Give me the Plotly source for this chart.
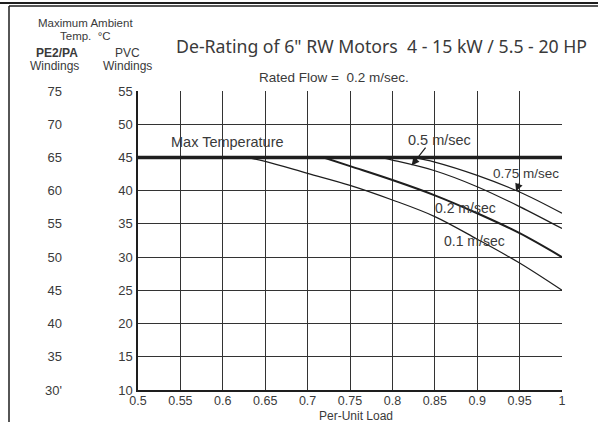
import plotly.graph_objects as go

# ---- data ----
load_01 = [0.628, 0.65, 0.7, 0.75, 0.8, 0.85, 0.9, 0.95, 1.0]
temp_01 = [45, 44.4, 42.6, 40.8, 38.6, 36.1, 32.7, 29.1, 25]
load_02 = [0.719, 0.75, 0.8, 0.85, 0.9, 0.95, 1.0]
temp_02 = [45, 43.7, 41.6, 39.3, 36.6, 33.6, 30]
load_05 = [0.785, 0.8, 0.85, 0.9, 0.95, 1.0]
temp_05 = [45, 44.6, 43.0, 40.6, 37.6, 34.3]
load_075 = [0.825, 0.85, 0.9, 0.95, 1.0]
temp_075 = [45, 44.3, 42.3, 39.8, 36.6]
max_load = [0.5, 1.0]
max_temp = [45, 45]

x_ticks = [0.5, 0.55, 0.6, 0.65, 0.7, 0.75, 0.8, 0.85, 0.9, 0.95, 1]
x_ticktext = ["0.5", "0.55", "0.6", "0.65", "0.7", "0.75", "0.8", "0.85", "0.9", "0.95", "1"]
pvc_ticks = [10, 15, 20, 25, 30, 35, 40, 45, 50, 55]
pe_ticks = [30, 35, 40, 45, 50, 55, 60, 65, 70, 75]
pe_ticktext = ["30'", "35", "40", "45", "50", "55", "60", "65", "70", "75"]

W, H = 598, 422
ML, MR, MT, MB = 0, 36, 91, 32
PW = W - ML - MR
PH = H - MT - MB

def px(x):
    return (x - ML) / PW

def py(y):
    return (H - MB - y) / PH

LINE = "#1e1e1e"
TXT = "#3a3a3a"
FONT = "Liberation Sans"

fig = go.Figure()
fig.add_trace(go.Scatter(x=max_load, y=max_temp, mode="lines",
                         line=dict(color=LINE, width=3.5), hoverinfo="skip"))
fig.add_trace(go.Scatter(x=load_01, y=temp_01, mode="lines", line_shape="spline",
                         line=dict(color=LINE, width=1.2), hoverinfo="skip"))
fig.add_trace(go.Scatter(x=load_02, y=temp_02, mode="lines", line_shape="spline",
                         line=dict(color=LINE, width=2), hoverinfo="skip"))
fig.add_trace(go.Scatter(x=load_05, y=temp_05, mode="lines", line_shape="spline",
                         line=dict(color=LINE, width=1.2), hoverinfo="skip"))
fig.add_trace(go.Scatter(x=load_075, y=temp_075, mode="lines", line_shape="spline",
                         line=dict(color=LINE, width=1.2), hoverinfo="skip"))
# invisible trace to carry the PE2/PA axis
fig.add_trace(go.Scatter(x=[0.5, 1.0], y=[30, 75], yaxis="y2", mode="lines",
                         line=dict(width=0), opacity=0, hoverinfo="skip"))

fig.update_layout(
    width=W, height=H,
    margin=dict(l=ML, r=MR, t=MT, b=MB, autoexpand=False),
    plot_bgcolor="white", paper_bgcolor="white",
    showlegend=False,
    font=dict(family=FONT, size=13, color=TXT),
    xaxis=dict(domain=[px(138), 1], range=[0.5, 1], tickvals=x_ticks, ticktext=x_ticktext,
               showgrid=True, gridcolor="#333", gridwidth=1, automargin=False,
               showline=True, linecolor=LINE, linewidth=1.5, mirror=False,
               ticks="", zeroline=False, ticklabelstandoff=-2,
               tickfont=dict(size=12.5, color=TXT)),
    yaxis=dict(range=[10, 55], tickvals=pvc_ticks, automargin=False,
               showgrid=True, gridcolor="#333", gridwidth=1,
               showline=True, linecolor=LINE, linewidth=1.5,
               ticks="", zeroline=False, ticklabelstandoff=1,
               tickfont=dict(size=13, color=TXT)),
    yaxis2=dict(range=[30, 75], tickvals=pe_ticks, ticktext=pe_ticktext, automargin=False,
                overlaying="y", anchor="free", side="left", position=px(62),
                showgrid=False, showline=False, ticks="", zeroline=False,
                tickfont=dict(size=13, color=TXT)),
)

ann = []
def txt(x, y, s, size=12, **kw):
    ann.append(dict(x=px(x), y=py(y), xref="paper", yref="paper", text=s, showarrow=False,
                    font=dict(family=kw.pop("family", FONT), size=size, color=TXT),
                    xanchor=kw.pop("xanchor", "center"), yanchor="middle", **kw))

txt(85, 22.5, "Maximum Ambient", 11.5)
txt(85, 36, "Temp.  °C", 11.5)
txt(57, 53, "<b>PE2/PA</b>", 12)
txt(127, 53, "PVC", 12)
txt(54, 66.5, "Windings", 12)
txt(127, 66.5, "Windings", 12)
txt(381, 46, "De-Rating of 6\" RW Motors  4 - 15 kW / 5.5 - 20 HP", 17.7, family="Noto Sans")
txt(334, 77, "Rated Flow =  0.2 m/sec.", 13.5)
txt(356, 416, "Per-Unit Load", 12)

def dtxt(x, y, s, size=14):
    ann.append(dict(x=x, y=y, xref="x", yref="y", text=s, showarrow=False,
                    font=dict(family=FONT, size=size, color=TXT),
                    xanchor="center", yanchor="middle"))

dtxt(0.605, 47.3, "Max Temperature", 14.5)
dtxt(0.856, 47.6, "0.5 m/sec", 14.5)
dtxt(0.958, 42.6, "0.75 m/sec", 13.5)
dtxt(0.886, 37.4, "0.2 m/sec")
dtxt(0.897, 32.5, "0.1 m/sec")

for tip, tail in [((0.8227, 43.8), (0.8405, 46.7)), ((0.9458, 39.9), (0.9505, 41.4))]:
    ann.append(dict(x=tip[0], y=tip[1], ax=tail[0], ay=tail[1], xref="x", yref="y",
                    axref="x", ayref="y", text="", showarrow=True, arrowhead=2,
                    arrowsize=1.3, arrowwidth=1.2, arrowcolor=LINE))

fig.update_layout(annotations=ann)

shapes = [
    dict(type="line", xref="paper", yref="paper", x0=px(0), x1=px(W), y0=py(3), y1=py(3),
         line=dict(color=LINE, width=1.8), layer="above"),
    dict(type="line", xref="paper", yref="paper", x0=px(9), x1=px(W), y0=py(6), y1=py(6),
         line=dict(color=LINE, width=1.5), layer="above"),
    dict(type="line", xref="paper", yref="paper", x0=px(9), x1=px(9), y0=py(6), y1=py(H),
         line=dict(color=LINE, width=1.5), layer="above"),
]
fig.update_layout(shapes=shapes)

fig.write_html("out.html", config={"displayModeBar": False},
               post_script="document.body.style.margin='0px'; window.scrollTo(0,0);")
